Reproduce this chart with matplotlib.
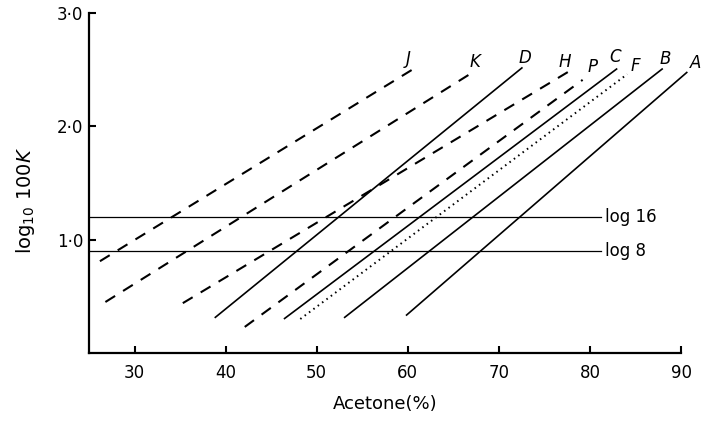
import matplotlib
matplotlib.use('Agg')
import matplotlib.pyplot as plt
import numpy as np

# curve end points: (acetone %, log10 100K)
names = ['J', 'K', 'D', 'H', 'P', 'C', 'F', 'B', 'A']
x_start = [26.2, 26.8, 38.8, 35.3, 42.1, 46.4, 48.2, 53.0, 59.8]
y_start = [0.81, 0.45, 0.31, 0.44, 0.23, 0.30, 0.30, 0.31, 0.33]
x_end = [61.1, 67.4, 72.6, 77.6, 79.2, 83.0, 84.1, 88.0, 90.7]
y_end = [2.53, 2.49, 2.52, 2.48, 2.41, 2.51, 2.46, 2.51, 2.48]
kinds = ['dash', 'dash', 'solid', 'dash', 'dash', 'solid', 'dot', 'solid', 'solid']

ref_labels = ['log 16', 'log 8']
ref_values = [np.log10(16), np.log10(8)]
ref_x = [25, 81.2]

x_ticks = [30, 40, 50, 60, 70, 80, 90]
y_ticks = [1, 2, 3]
y_ticklabels = ['1·0', '2·0', '3·0']

# label offsets from line ends, in points
label_off = {'J': (-7, 5), 'K': (0, 6), 'D': (1.5, 7), 'H': (-2, 7), 'P': (7, 9),
             'C': (-1.5, 8), 'F': (6, 6), 'B': (2, 7), 'A': (6, 6.5)}

plt.rcParams['font.family'] = 'DejaVu Sans'

fig = plt.figure(figsize=(7.02, 4.28), dpi=100)
ax = fig.add_axes([89/702, 1 - 353/428, (681-89)/702, (353-13)/428])

for i in range(len(names)):
    xs = [x_start[i], x_end[i]]
    ys = [y_start[i], y_end[i]]
    if kinds[i] == 'solid':
        ax.plot(xs, ys, color='black', lw=1.2, solid_capstyle='butt', clip_on=False)
    elif kinds[i] == 'dash':
        ax.plot(xs, ys, color='black', lw=1.5, linestyle=(0, (5.5, 4.5)), dash_capstyle='butt', clip_on=False)
    else:
        ax.plot(xs, ys, color='black', lw=1.4, linestyle=(0, (0.8, 2.0)), clip_on=False)
    ax.annotate(names[i], (x_end[i], y_end[i]), xytext=label_off[names[i]],
                textcoords='offset points', ha='center', va='center',
                fontsize=12, fontstyle='italic', annotation_clip=False)

for lab, v in zip(ref_labels, ref_values):
    ax.plot(ref_x, [v, v], color='black', lw=0.9)
    ax.text(ref_x[1] + 0.5, v, lab, ha='left', va='center', fontsize=12)

ax.set_xlim(25, 90)
ax.set_ylim(0, 3.0)
ax.set_xticks(x_ticks)
ax.set_yticks(y_ticks)
ax.set_yticklabels(y_ticklabels)
ax.tick_params(direction='in', length=5, width=1.5, labelsize=12)
ax.tick_params(axis='x', pad=8)
ax.tick_params(axis='y', pad=4)
for s in ['top', 'right']:
    ax.spines[s].set_visible(False)
for s in ['left', 'bottom']:
    ax.spines[s].set_linewidth(1.6)

ax.set_xlabel('Acetone(%)', fontsize=13, labelpad=9)
ax.set_ylabel('log$_{10}$ 100$K$', fontsize=14)
ax.yaxis.set_label_coords(-0.088, 0.45)

plt.savefig('out.png', dpi=100)
